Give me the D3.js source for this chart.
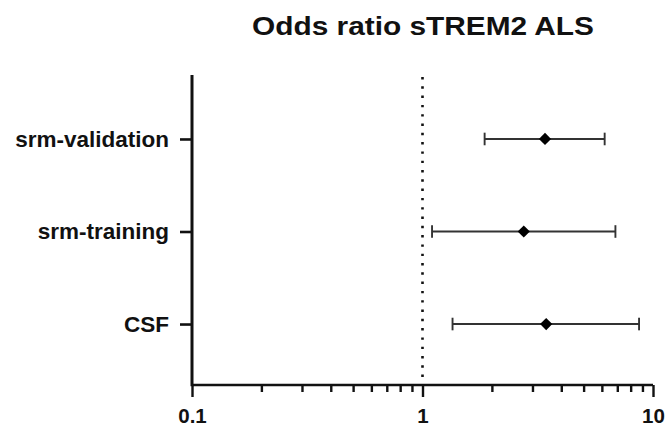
<!DOCTYPE html>
<html><head><meta charset="utf-8">
<script src="https://cdn.jsdelivr.net/npm/d3@7"></script>
<style>body{margin:0;background:#fff;}svg{display:block;}</style>
</head><body>
<svg id="c" width="667" height="431"></svg>
<script>
const categories = ["srm-validation", "srm-training", "CSF"];
const oddsRatio = [3.40, 2.75, 3.44];
const ciLow = [1.86, 1.10, 1.35];
const ciHigh = [6.17, 6.87, 8.70];
const tickValues = [0.1, 1, 10];
const tickLabels = ["0.1", "1", "10"];
const minorTicks = [0.2,0.3,0.4,0.5,0.6,0.7,0.8,0.9,2,3,4,5,6,7,8,9];
const title = "Odds ratio sTREM2 ALS";

const svg = d3.select("#c");
const font = "'Liberation Sans', Arial, sans-serif";
const x = d3.scaleLog().domain([0.1, 10]).range([192, 653]);
const yTop = 75, yBottom = 385;
const y = d3.scalePoint().domain(categories).range([78, 385]).padding(0.659);

// title
svg.append("text").attr("x", 423).attr("y", 35).attr("text-anchor", "middle")
  .attr("font-family", font).attr("font-weight", "bold").attr("font-size", 26.5)
  .attr("textLength", 342).attr("lengthAdjust", "spacingAndGlyphs")
  .attr("fill", "#111").text(title);

// reference line at 1
svg.append("line").attr("x1", x(1)).attr("x2", x(1)).attr("y1", yTop + 2).attr("y2", yBottom)
  .attr("stroke", "#111").attr("stroke-width", 2.6).attr("stroke-dasharray", "2.4,6.9");

// x axis
const xAxis = d3.axisBottom(x).tickValues(tickValues).tickFormat((d, i) => tickLabels[i]).tickSize(12).tickPadding(7);
const gx = svg.append("g").attr("transform", `translate(0,${yBottom})`).call(xAxis);
gx.select(".domain").attr("stroke", "#111").attr("stroke-width", 2.6).attr("d", `M${x(0.1)},0H${x(10)}`);
gx.selectAll(".tick line").attr("stroke", "#111").attr("stroke-width", 2.4);
gx.selectAll(".tick text").attr("font-family", font).attr("font-weight", "bold").attr("font-size", 20.5)
  .attr("fill", "#111").attr("dy", "0.95em");
const gxm = svg.append("g").attr("transform", `translate(0,${yBottom})`)
  .call(d3.axisBottom(x).tickValues(minorTicks).tickFormat("").tickSize(7));
gxm.select(".domain").remove();
gxm.selectAll(".tick line").attr("stroke", "#111").attr("stroke-width", 2.4);

// y axis
const gy = svg.append("g").attr("transform", `translate(${x(0.1)},0)`)
  .call(d3.axisLeft(y).tickSize(12).tickPadding(11));
gy.select(".domain").attr("stroke", "#111").attr("stroke-width", 3).attr("d", `M0,${yTop}V${yBottom + 1.3}`);
gy.selectAll(".tick line").attr("stroke", "#111").attr("stroke-width", 2.6);
gy.selectAll(".tick text").attr("font-family", font).attr("font-weight", "bold").attr("font-size", 22.5).attr("fill", "#111");

// error bars
const rows = categories.map((c, i) => ({c, or: oddsRatio[i], lo: ciLow[i], hi: ciHigh[i]}));
const g = svg.append("g");
g.selectAll("line.ci").data(rows).join("line").attr("class", "ci")
  .attr("x1", d => x(d.lo)).attr("x2", d => x(d.hi)).attr("y1", d => y(d.c)).attr("y2", d => y(d.c))
  .attr("stroke", "#333").attr("stroke-width", 1.9);
g.selectAll("line.capL").data(rows).join("line").attr("class", "capL")
  .attr("x1", d => x(d.lo)).attr("x2", d => x(d.lo)).attr("y1", d => y(d.c) - 6.3).attr("y2", d => y(d.c) + 6.3)
  .attr("stroke", "#333").attr("stroke-width", 1.9);
g.selectAll("line.capR").data(rows).join("line").attr("class", "capR")
  .attr("x1", d => x(d.hi)).attr("x2", d => x(d.hi)).attr("y1", d => y(d.c) - 6.3).attr("y2", d => y(d.c) + 6.3)
  .attr("stroke", "#333").attr("stroke-width", 1.9);
g.selectAll("path.pt").data(rows).join("path").attr("class", "pt")
  .attr("d", d3.symbol().type(d3.symbolDiamond2).size(95))
  .attr("transform", d => `translate(${x(d.or)},${y(d.c)})`)
  .attr("fill", "#000");
</script>
</body></html>
